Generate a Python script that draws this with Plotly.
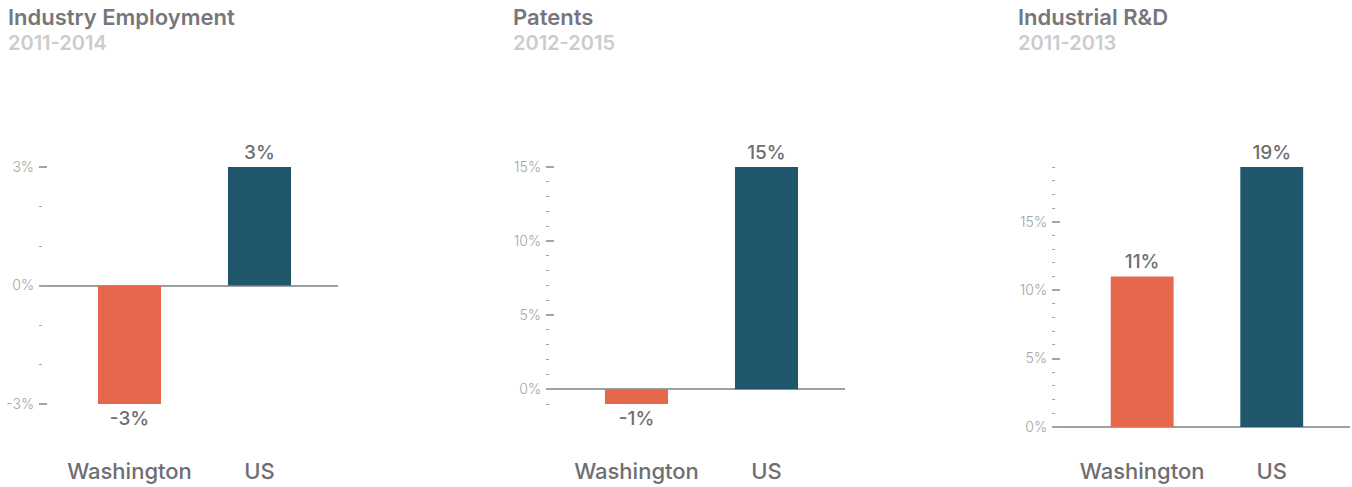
import plotly.graph_objects as go

categories = ["Washington", "US"]

titles = ["Industry Employment", "Patents", "Industrial R&D"]
subtitles = ["2011-2014", "2012-2015", "2011-2013"]

employment = [-3, 3]
patents = [-1, 15]
rnd = [11, 19]
values = [employment, patents, rnd]

y_ranges = [[-3, 3], [-1, 15], [0, 19]]
tick_vals = [[-3, 0, 3], [0, 5, 10, 15], [0, 5, 10, 15]]
tick_text = [["-3%", "0%", "3%"], ["0%", "5%", "10%", "15%"], ["0%", "5%", "10%", "15%"]]

bar_colors = ["#E5684D", "#1F566B"]
TEXT = "#6D6E71"
TICK = "#A2A4A7"
LINE = "#9D9FA2"
FONT = "Inter"

W, H = 1352, 487
PAD = 6  # px of padding so edge ticks are not clipped
x_domains = [[39 / W, 338 / W], [546 / W, 845 / W], [1052 / W, 1350 / W]]
# pixel rows of the low and high end of each y range
y_px = [[404, 167], [404, 167], [427, 167]]
label_rows = [472, 472, 472]
title_x = [6, 511, 1016]

fig = go.Figure()
layout = dict(
    width=W, height=H, autosize=False, margin=dict(l=0, r=0, t=0, b=0, pad=0),
    plot_bgcolor="white", paper_bgcolor="white", showlegend=False,
    font=dict(family=FONT, color=TEXT),
    annotations=[],
)

for i in range(3):
    n = "" if i == 0 else str(i + 1)
    lo, hi = y_ranges[i]
    bot_px, top_px = y_px[i]
    ppu = (bot_px - top_px) / (hi - lo)
    dom = [1 - (bot_px + PAD) / H, 1 - (top_px - PAD) / H]
    rng = [lo - PAD / ppu, hi + PAD / ppu]

    fig.add_trace(go.Bar(
        x=categories, y=values[i], xaxis="x" + n, yaxis="y" + n,
        marker=dict(color=bar_colors, line=dict(width=0)),
        width=0.485,
        text=[f"{v}%" for v in values[i]], textposition="outside",
        textfont=dict(size=19, color=TEXT, family=FONT, weight=500),
        constraintext="none", cliponaxis=False, hoverinfo="skip",
    ))
    layout["xaxis" + n] = dict(
        domain=x_domains[i], anchor="y" + n, range=[-0.696, 1.604],
        showgrid=False, showline=False, zeroline=False, ticks="",
        tickfont=dict(size=22, color=TEXT, family=FONT, weight=500),
        ticklabelstandoff=label_rows[i] - bot_px - PAD - 16,
        fixedrange=True, automargin=False,
    )
    layout["yaxis" + n] = dict(
        domain=dom, anchor="x" + n, range=rng,
        showgrid=False, showline=False,
        zeroline=True, zerolinecolor=LINE, zerolinewidth=2,
        tickvals=tick_vals[i], ticktext=tick_text[i],
        ticks="inside", ticklen=8, tickwidth=1.5, tickcolor=TICK,
        tickfont=dict(size=14, color=TICK, family=FONT, weight=300),
        ticklabelstandoff=4,
        minor=dict(dtick=1, tick0=0, ticks="inside", ticklen=3, tickwidth=1.2, tickcolor=TICK),
        fixedrange=True, automargin=False,
    )
    layout["annotations"].append(dict(
        text=titles[i], x=title_x[i] / W, y=1 - 17 / H, xref="paper", yref="paper",
        xanchor="left", yanchor="middle", showarrow=False,
        font=dict(size=22, color="#76777B", family=FONT, weight=600),
    ))
    layout["annotations"].append(dict(
        text=subtitles[i], x=title_x[i] / W, y=1 - 43 / H, xref="paper", yref="paper",
        xanchor="left", yanchor="middle", showarrow=False,
        font=dict(size=20, color="#CCCCCC", family=FONT, weight=600),
    ))

fig.update_layout(**layout)
fig.write_html("out.html", config={"displayModeBar": False},
               post_script="document.body.style.margin='0';")
